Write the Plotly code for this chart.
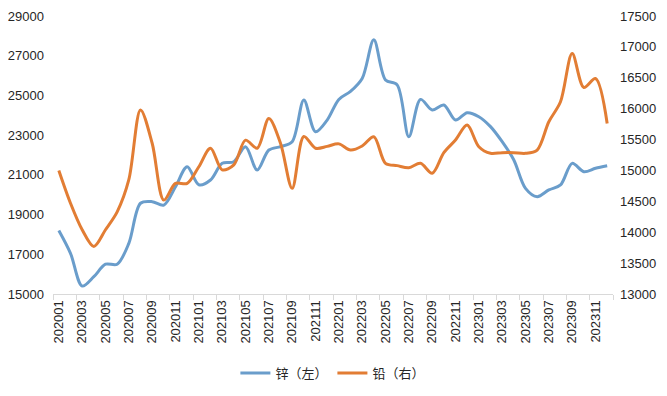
import plotly.graph_objects as go

months = [f"{y}{m:02d}" for y in (2020, 2021, 2022, 2023) for m in range(1, 13)]

zinc = [18200, 17050, 15400, 15870, 16500, 16500, 17550, 19570, 19650, 19480,
        20400, 21410, 20500, 20740, 21580, 21660, 22420, 21240, 22250, 22420,
        22670, 24770, 23170, 23760, 24800, 25200, 25850, 27800, 25780, 25530,
        22920, 24800, 24270, 24520, 23760, 24130, 23930, 23430, 22670, 21750,
        20320, 19900, 20240, 20490, 21580, 21160, 21330, 21460]

lead = [15000, 14470, 14040, 13770, 14040, 14330, 14850, 15980, 15440, 14520,
        14790, 14790, 15060, 15360, 15010, 15090, 15490, 15360, 15840, 15440,
        14710, 15550, 15360, 15390, 15430, 15330, 15395, 15546, 15115, 15078,
        15045, 15115, 14954, 15288, 15492, 15734, 15384, 15277, 15288, 15288,
        15277, 15330, 15788, 16111, 16892, 16343, 16488, 15761]

fig = go.Figure()
fig.add_trace(go.Scatter(x=months, y=zinc, name="锌（左）", mode="lines",
                         line=dict(color="#6A9DCB", width=3, shape="spline", smoothing=0.9),
                         yaxis="y"))
fig.add_trace(go.Scatter(x=months, y=lead, name="铅（右）", mode="lines",
                         line=dict(color="#E27D34", width=3, shape="spline", smoothing=0.9),
                         yaxis="y2"))

tick_font = dict(family="Liberation Sans, Arial, sans-serif", size=13, color="#262626")

# page body has an 8px default margin, so the figure is sized to fit the window
fig.update_layout(
    width=659, height=388,
    margin=dict(l=45, r=54, t=8, b=102),
    paper_bgcolor="white", plot_bgcolor="white",
    showlegend=True,
    legend=dict(orientation="h", xref="container", yref="container",
                x=0.493, xanchor="center", y=0.059, yanchor="middle",
                font=dict(family="Noto Sans CJK SC, sans-serif", size=13, color="#262626"),
                itemwidth=30, tracegroupgap=0),
    xaxis=dict(type="category", tickangle=-90, dtick=2, tickson="boundaries",
               ticks="outside", ticklen=5, tickcolor="#D9D9D9", automargin=False,
               showline=True, linecolor="#D9D9D9", linewidth=1,
               showgrid=False, tickfont=dict(family="Liberation Sans, Arial, sans-serif", size=13, color="#262626"),
               range=[-0.5, 47.5]),
    yaxis=dict(range=[15000, 29000], tick0=15000, dtick=2000, tickformat="d",
               showgrid=False, zeroline=False, ticklabelstandoff=8, automargin=False,
               tickfont=tick_font, ticks="", showline=False),
    yaxis2=dict(range=[13000, 17500], tick0=13000, dtick=500, tickformat="d",
                overlaying="y", side="right", ticklabelstandoff=6, automargin=False,
                showgrid=False, zeroline=False, tickfont=tick_font, ticks="",
                showline=False),
)

fig.write_html("out.html")
